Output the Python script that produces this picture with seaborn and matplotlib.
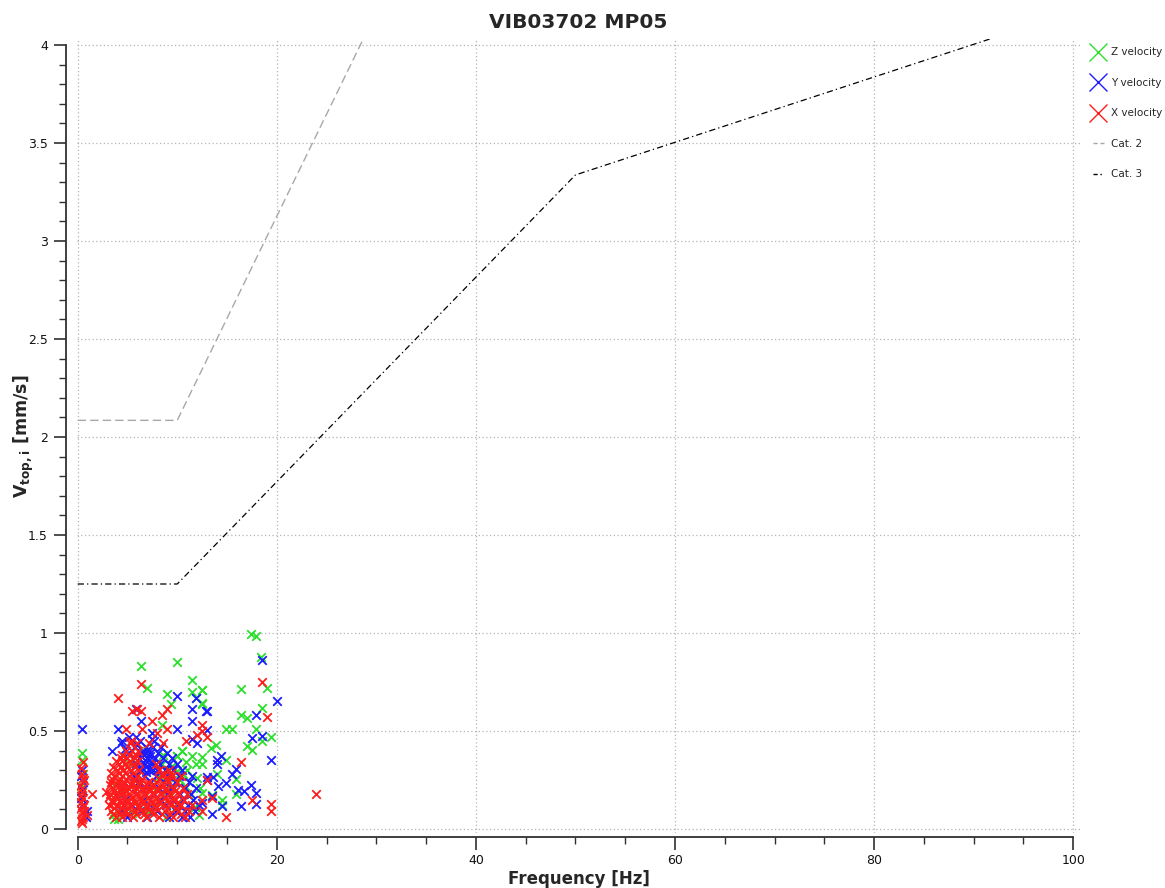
import matplotlib
matplotlib.use("Agg")
import matplotlib.pyplot as plt
import seaborn as sns
import pandas as pd
from matplotlib.lines import Line2D
from matplotlib.ticker import MultipleLocator, FuncFormatter

# ---------------- data ----------------
title = "VIB03702 MP05"
x_label = "Frequency [Hz]"
series_names = ["Z velocity", "Y velocity", "X velocity"]
line_names = ["Cat. 2", "Cat. 3"]

cat2_freq = [0, 10, 50, 100]
cat2_vel = [2.085, 2.085, 6.25, 8.0]
cat3_freq = [0, 10, 50, 100]
cat3_vel = [1.25, 1.25, 3.337, 4.17]

z_freq = [0.4, 0.4, 0.3, 0.5,
          3.5, 4.0, 5.5, 6.2, 7.1, 7.8, 8.3, 8.8, 9.1, 9.5, 8.5, 8.0, 9.9, 10.3, 10.0, 10.5,
          11.5, 11.0, 10.8, 11.8, 10.0, 11.3, 12.0, 9.2, 8.6, 7.4, 6.7, 5.0, 4.4, 11.9, 12.3,
          9.7, 8.9, 12.2, 3.7, 6.0, 7.0, 5.3, 3.6, 4.1,
          6.4, 10.0, 7.0, 11.5, 9.0, 9.4, 11.5, 12.5, 12.5, 11.9, 8.5, 10.5, 10.0, 9.5,
          17.4, 17.9, 18.4, 16.4, 19.0, 12.5, 12.5, 18.5, 16.4, 17.0, 14.9, 15.5, 17.9,
          19.4, 18.5, 13.9, 13.4, 17.0, 17.5, 12.5, 12.5, 14.9, 14.0, 15.9, 12.5, 15.9,
          14.5, 14.5, 13.5, 7.1, 7.8, 11.8, 9.1,
          8.2, 9.0, 10.6, 11.2, 9.6, 10.9]
z_vel = [0.39, 0.35, 0.22, 0.28,
         0.07, 0.05, 0.08, 0.12, 0.09, 0.11, 0.15, 0.26, 0.27, 0.32, 0.33, 0.30, 0.29, 0.25, 0.37, 0.40,
         0.37, 0.30, 0.22, 0.11, 0.13, 0.18, 0.26, 0.20, 0.38, 0.22, 0.18, 0.14, 0.19, 0.33, 0.21,
         0.10, 0.06, 0.07, 0.23, 0.27, 0.40, 0.33, 0.05, 0.08,
         0.83, 0.85, 0.72, 0.76, 0.69, 0.64, 0.70, 0.71, 0.64, 0.67, 0.53, 0.40, 0.37, 0.32,
         0.997, 0.983, 0.877, 0.716, 0.719, 0.711, 0.643, 0.617, 0.583, 0.566, 0.512, 0.512, 0.512,
         0.471, 0.447, 0.430, 0.413, 0.426, 0.401, 0.367, 0.333, 0.350, 0.282, 0.256, 0.183, 0.180,
         0.146, 0.120, 0.176, 0.086, 0.111, 0.111, 0.265,
         0.27, 0.30, 0.28, 0.24, 0.21, 0.34]

y_freq = [0.4, 0.3, 0.5, 0.4, 0.3, 0.5, 0.4, 0.9, 0.8,
          5.0, 7.0, 9.2, 10.5, 11.3,
          4.4, 6.3, 8.0, 9.9, 10.8, 11.8,
          5.5, 7.3, 8.9, 10.1, 11.1, 12.2,
          4.8, 6.6, 8.3, 9.6, 10.6, 11.6,
          5.9, 7.7, 9.0, 10.3, 11.4,
          4.6, 6.9, 8.2, 9.4, 10.8, 11.9,
          6.1, 7.4, 8.7, 9.8, 11.2,
          5.7, 6.8, 7.9, 9.1, 10.2, 11.5,
          6.4, 7.2, 8.0, 8.8, 9.6, 10.5,
          5.9, 6.7, 7.5, 8.3, 9.2, 10.0,
          6.2, 7.0, 7.8, 8.6, 9.5,
          5.1, 6.5, 7.3, 8.1, 9.0,
          5.8, 6.9, 7.6, 8.4,
          6.3, 7.7,
          6.5, 7.0, 6.8, 7.3, 6.6, 7.1, 7.5, 6.4, 7.6, 6.9, 6.7, 7.2,
          4.0, 4.4, 3.4, 4.8, 5.2, 6.0, 10.0, 11.9, 11.5, 12.9, 11.5, 10.0, 6.4, 7.5, 7.5,
          5.9, 11.5, 12.0, 5.9, 4.3,
          18.5, 20.0, 13.0, 17.9, 13.0, 17.5, 18.5, 19.4, 14.4, 14.0, 14.0, 15.9, 15.5,
          13.0, 13.0, 13.6, 14.9, 14.1, 17.4, 16.1, 16.7, 17.9, 13.5, 12.5, 17.9, 16.4,
          13.5, 14.5]
y_vel = [0.30, 0.27, 0.24, 0.20, 0.16, 0.13, 0.51, 0.09, 0.06,
         0.06, 0.06, 0.06, 0.06, 0.06,
         0.09, 0.09, 0.09, 0.09, 0.09, 0.09,
         0.12, 0.12, 0.12, 0.12, 0.12, 0.12,
         0.15, 0.15, 0.15, 0.15, 0.15, 0.15,
         0.18, 0.18, 0.18, 0.18, 0.18,
         0.21, 0.21, 0.21, 0.21, 0.21, 0.21,
         0.24, 0.24, 0.24, 0.24, 0.24,
         0.27, 0.27, 0.27, 0.27, 0.27, 0.27,
         0.30, 0.30, 0.30, 0.30, 0.30, 0.30,
         0.33, 0.33, 0.33, 0.33, 0.33, 0.33,
         0.36, 0.36, 0.36, 0.36, 0.36,
         0.39, 0.39, 0.39, 0.39, 0.39,
         0.42, 0.42, 0.42, 0.42,
         0.45, 0.45,
         0.31, 0.32, 0.35, 0.37, 0.40, 0.41, 0.34, 0.37, 0.30, 0.29, 0.38, 0.35,
         0.51, 0.45, 0.40, 0.41, 0.47, 0.43, 0.68, 0.67, 0.61, 0.60, 0.55, 0.51, 0.55, 0.49, 0.46,
         0.61, 0.46, 0.44, 0.47, 0.44,
         0.861, 0.651, 0.602, 0.580, 0.503, 0.466, 0.472, 0.353, 0.375, 0.350, 0.333, 0.307, 0.282,
         0.265, 0.248, 0.265, 0.234, 0.217, 0.222, 0.200, 0.193, 0.183, 0.166, 0.132, 0.129, 0.115,
         0.078, 0.115]

x_freq = [0.3, 0.5, 0.4, 0.2, 0.6, 0.3, 0.5, 0.4, 0.2, 0.6, 0.4, 0.3, 0.5, 0.9, 0.4, 0.6, 1.4,
          0.4, 0.5, 0.3, 0.4, 0.5,
          3.8, 4.5, 5.6, 6.9, 8.2, 9.6, 10.8,
          3.5, 4.2, 5.0, 5.9, 6.7, 7.6, 8.5, 9.3, 10.4,
          3.3, 4.1, 4.9, 5.8, 6.6, 7.5, 8.8, 10.1, 11.2,
          3.6, 4.4, 5.2, 6.2, 7.0, 7.9, 9.0, 9.9,
          3.1, 3.9, 4.6, 5.3, 6.1, 7.0, 7.8, 8.6, 9.4, 10.4, 11.5,
          3.5, 4.3, 5.0, 5.8, 6.6, 7.5, 8.3, 9.2, 10.0,
          3.4, 4.2, 5.0, 5.7, 6.4, 7.3, 8.1, 9.0, 9.8, 10.7,
          3.1, 3.9, 4.7, 5.5, 6.3, 7.1, 7.9, 8.8, 9.6,
          3.2, 3.8, 4.5, 5.2, 6.0, 6.8, 7.6, 8.4, 9.3, 10.2, 11.0,
          3.6, 4.3, 5.0, 5.8, 6.6, 7.3, 8.1, 8.9, 9.8,
          3.5, 4.3, 5.1, 5.9, 6.5, 7.2, 8.0, 8.9, 9.7, 10.6,
          3.2, 3.9, 4.6, 5.4, 6.2, 7.0, 7.7, 8.5,
          3.3, 4.0, 4.7, 5.5, 6.3, 7.1, 7.9, 9.1, 10.0,
          3.4, 4.2, 4.9, 5.7, 6.5, 8.2, 9.0,
          3.6, 4.4, 5.2, 6.0, 8.5, 9.5, 10.4,
          3.3, 4.1, 4.8, 5.6, 8.6, 9.4,
          3.9, 4.6, 5.4, 6.2, 8.2, 9.2,
          3.5, 4.3, 5.0, 5.8,
          4.1, 4.8, 5.6, 7.9,
          3.8, 4.5, 5.3, 6.1,
          4.3, 5.0, 5.8,
          4.4, 5.2, 5.9,
          4.9, 5.5, 6.1,
          5.3, 6.0, 8.6,
          4.0, 4.9, 5.5, 6.0, 5.4, 6.4, 6.4, 7.5, 9.0, 8.5, 9.0, 12.5, 12.5, 6.5, 10.9, 12.0,
          18.5, 19.0, 13.0, 16.4, 13.0, 13.5, 12.5, 17.5, 19.4, 19.4, 12.5, 14.9, 23.9, 7.2, 8.0,
          2.8]
x_vel = [0.04, 0.06, 0.08, 0.10, 0.12, 0.14, 0.16, 0.19, 0.22, 0.25, 0.28, 0.31, 0.34, 0.07, 0.05, 0.09, 0.18,
         0.03, 0.11, 0.17, 0.21, 0.26,
         0.06, 0.06, 0.06, 0.06, 0.06, 0.06, 0.06,
         0.075, 0.075, 0.075, 0.075, 0.075, 0.075, 0.075, 0.075, 0.075,
         0.09, 0.09, 0.09, 0.09, 0.09, 0.09, 0.09, 0.09, 0.09,
         0.105, 0.105, 0.105, 0.105, 0.105, 0.105, 0.105, 0.105,
         0.12, 0.12, 0.12, 0.12, 0.12, 0.12, 0.12, 0.12, 0.12, 0.12, 0.12,
         0.135, 0.135, 0.135, 0.135, 0.135, 0.135, 0.135, 0.135, 0.135,
         0.15, 0.15, 0.15, 0.15, 0.15, 0.15, 0.15, 0.15, 0.15, 0.15,
         0.165, 0.165, 0.165, 0.165, 0.165, 0.165, 0.165, 0.165, 0.165,
         0.18, 0.18, 0.18, 0.18, 0.18, 0.18, 0.18, 0.18, 0.18, 0.18, 0.18,
         0.195, 0.195, 0.195, 0.195, 0.195, 0.195, 0.195, 0.195, 0.195,
         0.21, 0.21, 0.21, 0.21, 0.21, 0.21, 0.21, 0.21, 0.21, 0.21,
         0.225, 0.225, 0.225, 0.225, 0.225, 0.225, 0.225, 0.225,
         0.24, 0.24, 0.24, 0.24, 0.24, 0.24, 0.24, 0.24, 0.24,
         0.255, 0.255, 0.255, 0.255, 0.255, 0.255, 0.255,
         0.27, 0.27, 0.27, 0.27, 0.27, 0.27, 0.27,
         0.285, 0.285, 0.285, 0.285, 0.285, 0.285,
         0.30, 0.30, 0.30, 0.30, 0.30, 0.30,
         0.315, 0.315, 0.315, 0.315,
         0.33, 0.33, 0.33, 0.33,
         0.345, 0.345, 0.345, 0.345,
         0.36, 0.36, 0.36,
         0.38, 0.38, 0.38,
         0.40, 0.40, 0.40,
         0.44, 0.44, 0.44,
         0.67, 0.51, 0.60, 0.61, 0.45, 0.74, 0.60, 0.55, 0.61, 0.58, 0.51, 0.53, 0.50, 0.51, 0.45, 0.48,
         0.75, 0.57, 0.47, 0.34, 0.25, 0.16, 0.15, 0.15, 0.13, 0.09, 0.09, 0.06, 0.18, 0.44, 0.49,
         0.19]

# ---------------- style ----------------
sns.set_style("white")
plt.rcParams["font.family"] = ["DejaVu Sans"]

colors = {"Z velocity": "#2ee02e", "Y velocity": "#1c1cff", "X velocity": "#ff1c1c"}
cat2_color = "#a8a8a8"
cat3_color = "#000000"

XMIN, XMAX = -0.05, 100.7
YMIN, YMAX = -0.02, 4.03
px_x = 9.955
px_y = 196.0
left_px = 77.7 + XMIN * px_x
right_px = 77.7 + XMAX * px_x
top_px = 45 - (YMAX - 4) * px_y
bot_px = 829 - YMIN * px_y

fig = plt.figure(figsize=(11.65, 8.88), dpi=100)
ax = fig.add_axes([left_px / 1165, (888 - bot_px) / 888,
                   (right_px - left_px) / 1165, (bot_px - top_px) / 888])

# threshold lines
df2 = pd.DataFrame({"f": cat2_freq, "v": cat2_vel})
df3 = pd.DataFrame({"f": cat3_freq, "v": cat3_vel})
sns.lineplot(data=df2, x="f", y="v", ax=ax, color=cat2_color, linewidth=1.0,
             sort=False, estimator=None, dashes=False, zorder=2)
ax.lines[-1].set_dashes([6, 3])
sns.lineplot(data=df3, x="f", y="v", ax=ax, color=cat3_color, linewidth=0.9,
             sort=False, estimator=None, dashes=False, zorder=2)
ax.lines[-1].set_dashes([5, 2.5, 1, 2.5])

# scatter series: Z, then Y, then X on top
for name, fx, vy in [("Z velocity", z_freq, z_vel),
                     ("Y velocity", y_freq, y_vel),
                     ("X velocity", x_freq, x_vel)]:
    sns.scatterplot(x=fx, y=vy, ax=ax, color=colors[name], marker="x", s=38,
                    linewidth=1.3, zorder=3, legend=False)

ax.set_xlim(XMIN, XMAX)
ax.set_ylim(YMIN, YMAX)
ax.xaxis.set_major_locator(MultipleLocator(20))
ax.xaxis.set_minor_locator(MultipleLocator(5))
ax.yaxis.set_major_locator(MultipleLocator(0.5))
ax.yaxis.set_minor_locator(MultipleLocator(0.1))
fmt = FuncFormatter(lambda v, p: f"{v:g}")
ax.xaxis.set_major_formatter(fmt)
ax.yaxis.set_major_formatter(fmt)

ax.grid(True, which="major", color="#b4b4b4", linestyle=(0, (1, 2)), linewidth=0.9)
for s in ["top", "right"]:
    ax.spines[s].set_visible(False)
ax.spines["left"].set_position(("outward", 8))
ax.spines["bottom"].set_position(("outward", 3))
for s in ["left", "bottom"]:
    ax.spines[s].set_color("#303030")
    ax.spines[s].set_linewidth(1.3)
ax.spines["left"].set_bounds(0, 4)
ax.spines["bottom"].set_bounds(0, 100)

ax.tick_params(which="major", direction="out", length=9, width=1.2, color="#303030",
               labelsize=9, labelcolor="#111111", pad=4, left=True, bottom=True)
ax.tick_params(axis="x", which="major", pad=3)
ax.tick_params(which="minor", direction="out", length=5, width=1.0, color="#303030",
               left=True, bottom=True)

ax.set_xlabel(x_label, fontsize=12, fontweight="bold", labelpad=2)
ax.set_ylabel(r"$\mathbf{V_{top,i}}$ [mm/s]", fontsize=12.5, fontweight="bold", labelpad=-6)
ax.set_title(title, fontsize=14.5, fontweight="bold", pad=8)

handles = [
    Line2D([], [], color=colors["Z velocity"], marker="x", linestyle="none", markersize=13, markeredgewidth=1.0),
    Line2D([], [], color=colors["Y velocity"], marker="x", linestyle="none", markersize=13, markeredgewidth=1.0),
    Line2D([], [], color=colors["X velocity"], marker="x", linestyle="none", markersize=13, markeredgewidth=1.0),
    Line2D([], [], color=cat2_color, linewidth=1.0, dashes=[3, 2]),
    Line2D([], [], color=cat3_color, linewidth=1.0, dashes=[3, 2, 1, 2]),
]
fig.legend(handles, series_names + line_names, loc="upper left",
           bbox_to_anchor=(1089 / 1165, 1 - 43 / 888), frameon=False, fontsize=7.5,
           handlelength=1.0, handletextpad=0.75, labelspacing=1.97, borderaxespad=0)

fig.savefig("out.png", dpi=100)
